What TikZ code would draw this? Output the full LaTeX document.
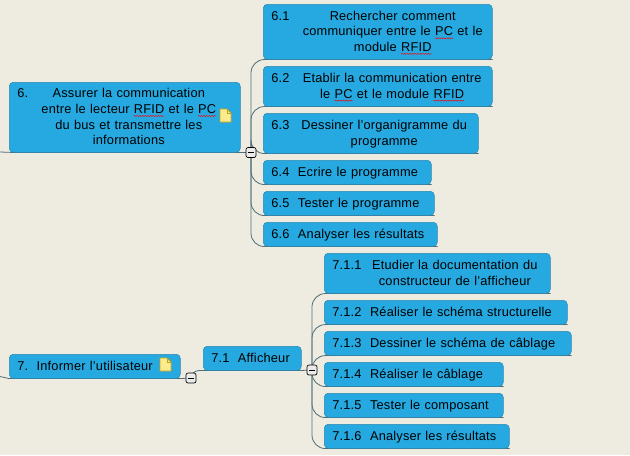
\documentclass[tikz,border=0pt]{standalone}
\usepackage{fontspec}
\setmainfont[LetterSpace=1.5]{Liberation Sans}
\usepackage{tikz}
\usetikzlibrary{backgrounds,decorations.pathmorphing}
\definecolor{mapback}{HTML}{EEECE1}
\definecolor{mapblue}{HTML}{25A9E0}
\definecolor{mapedge}{HTML}{2B88B0}
\definecolor{mapline}{HTML}{4E6E78}
\definecolor{noteyellow}{HTML}{FBEB8C}
\definecolor{noteedge}{HTML}{C9A21C}
% red wavy line of the spell checker
\newsavebox{\spellbox}
\newcommand{\spell}[1]{\sbox{\spellbox}{#1}\usebox{\spellbox}\tikz[overlay,x=1pt,y=1pt]{\draw[red,line width=0.35pt,sharp corners,decorate,decoration={zigzag,amplitude=0.4pt,segment length=2pt}] (-\wd\spellbox,-1.8) -- (0,-1.8);}}
% number on the left, centred lines beside it
\newcommand{\hung}[3]{#1\hspace{#2}\begin{tabular}[t]{@{}c@{}}#3\end{tabular}}
\tikzset{
  topic/.style={rectangle,rounded corners=3pt,draw=mapedge,fill=mapblue,anchor=north west,
    align=left,inner xsep=6pt,inner ysep=0pt,font=\fontsize{9.6}{11.7}\selectfont,
    text width=#1*0.75pt-12pt,execute at begin node={\vspace*{-1.5pt}}},
  branch/.style={draw=mapline,line width=0.6pt,rounded corners=10pt},
  collapse/.style={rectangle,rounded corners=1.5pt,draw=black,fill=black!8,line width=0.5pt,
    minimum width=7.5pt,minimum height=7.5pt,inner sep=0pt,
    label={[inner sep=0pt]center:\rule{3.8pt}{0.7pt}}},
  note/.pic={
    \filldraw[draw=noteedge,fill=noteyellow,line width=0.7pt] (0,0) -- (7,0) -- (11,4) -- (11,13) -- (0,13) -- cycle;
    \draw[noteedge,line width=0.4pt] (7,0) -- (7,4) -- (11,4);
  }
}
\begin{document}
\begin{tikzpicture}[x=0.75pt,y=-0.75pt]
\useasboundingbox (0,0) rectangle (630,455);
\node[topic=231,minimum height=52.5pt] (t6) at (9,82) {\hung{6.}{10pt}{Assurer la communication\\entre le lecteur \spell{RFID} et le \spell{PC}\\du bus et transmettre les\\informations}};
\node[topic=229,minimum height=41.25pt] (t61) at (263,4) {\hung{6.1}{10pt}{Rechercher comment\\communiquer entre le \spell{PC} et le\\module \spell{RFID}}};
\node[topic=229,minimum height=30pt] (t62) at (263,66) {\hung{6.2}{10pt}{Etablir la communication entre\\le \spell{PC} et le module \spell{RFID}}};
\node[topic=215,minimum height=30pt] (t63) at (263,113) {\hung{6.3}{9pt}{Dessiner l'organigramme du\\programme}};
\node[topic=168,minimum height=18pt] (t64) at (263,160) {6.4\ \ Ecrire le programme};
\node[topic=171,minimum height=18pt] (t65) at (263,191) {6.5\ \ Tester le programme};
\node[topic=174,minimum height=18pt] (t66) at (263,222) {6.6\ \ Analyser les résultats};
\node[topic=171,minimum height=18pt] (t7) at (9,354) {7.\ \ Informer l'utilisateur};
\node[topic=98,minimum height=18pt] (t71) at (203,346) {7.1\ \ Afficheur};
\node[topic=226,minimum height=30pt] (t711) at (324,253) {\hung{7.1.1}{8pt}{Etudier la documentation du\\constructeur de l'afficheur}};
\node[topic=243,minimum height=18pt] (t712) at (324,300) {7.1.2\ \ Réaliser le schéma structurelle};
\node[topic=247,minimum height=18pt] (t713) at (324,331) {7.1.3\ \ Dessiner le schéma de câblage};
\node[topic=179,minimum height=18pt] (t714) at (324,362) {7.1.4\ \ Réaliser le câblage};
\node[topic=179,minimum height=18pt] (t715) at (324,393) {7.1.5\ \ Tester le composant};
\node[topic=185,minimum height=18pt] (t716) at (324,424) {7.1.6\ \ Analyser les résultats};
\node[collapse] (b6) at (251,152.5) {};
\node[collapse] (b7) at (191,378) {};
\node[collapse] (b71) at (312,370) {};
\pic at (220,109) {note};
\pic at (160,358) {note};
\begin{scope}[on background layer]
\fill[mapback] (0,0) rectangle (630,455);
\foreach \t in {t61,t62,t63,t64,t65,t66} \draw[branch] (b6.center) |- (\t.south east);
\foreach \t in {t711,t712,t713,t714,t715,t716} \draw[branch] (b71.center) |- (\t.south east);
\draw[branch] (0,152) -- (t6.south west) -- (t6.south east) -- (b6);
\draw[draw=mapline,line width=0.6pt] (0,376.5) -- (t7.south west) -- (t7.south east) -- (b7);
\draw[branch,rounded corners=6pt] (b7.center) |- (t71.south east) -- (b71);
\end{scope}
\end{tikzpicture}
\end{document}
